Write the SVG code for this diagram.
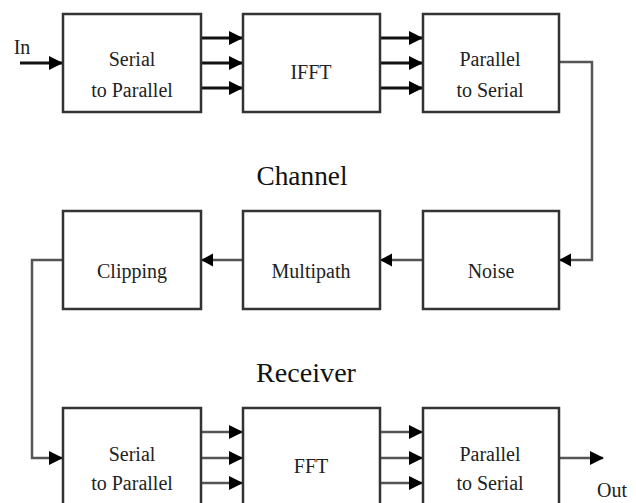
<svg xmlns="http://www.w3.org/2000/svg" width="636" height="503" viewBox="0 0 636 503">
<style>
.box{fill:#fff;stroke:#333;stroke-width:2.5}
.lbl{font-family:"Liberation Serif","Times New Roman",serif;font-size:20px;fill:#222;text-anchor:middle}
.title{font-family:"Liberation Serif","Times New Roman",serif;font-size:28px;fill:#111;text-anchor:middle}
.wire{fill:none;stroke:#111;stroke-width:3}
.wire2{fill:none;stroke:#555;stroke-width:2.5}
</style>
<defs>
<marker id="ah" markerUnits="userSpaceOnUse" markerWidth="14" markerHeight="14" viewBox="0 0 14 14" refX="13" refY="7" orient="auto">
<path d="M0,0 L14,7 L0,14 Z" fill="#000"/>
</marker>
<marker id="ah2" markerUnits="userSpaceOnUse" markerWidth="12" markerHeight="14" viewBox="0 0 12 14" refX="11" refY="7" orient="auto">
<path d="M0,0.5 L12,7 L0,13.5 Z" fill="#000"/>
</marker>
</defs>
<rect width="636" height="503" fill="#fff"/>
<g id="connectors">
<path class="wire" d="M20,63 H62" marker-end="url(#ah)"/>
<path class="wire" d="M201,38 H242" marker-end="url(#ah)"/>
<path class="wire" d="M201,63 H242" marker-end="url(#ah)"/>
<path class="wire" d="M201,88 H242" marker-end="url(#ah)"/>
<path class="wire" d="M380,38 H422" marker-end="url(#ah)"/>
<path class="wire" d="M380,63 H422" marker-end="url(#ah)"/>
<path class="wire" d="M380,88 H422" marker-end="url(#ah)"/>
<path class="wire2" d="M559,62 H592 V260 H560" marker-end="url(#ah2)"/>
<path class="wire2" d="M423,260 H381" marker-end="url(#ah2)"/>
<path class="wire2" d="M243,260 H202" marker-end="url(#ah2)"/>
<path class="wire2" d="M63,260 H32 V458 H62" marker-end="url(#ah)"/>
<path class="wire2" d="M201,432 H242" marker-end="url(#ah)"/>
<path class="wire2" d="M201,458 H242" marker-end="url(#ah)"/>
<path class="wire2" d="M201,483 H242" marker-end="url(#ah)"/>
<path class="wire2" d="M380,432 H422" marker-end="url(#ah)"/>
<path class="wire2" d="M380,458 H422" marker-end="url(#ah)"/>
<path class="wire2" d="M380,483 H422" marker-end="url(#ah)"/>
<path class="wire2" d="M559,458 H603" marker-end="url(#ah)"/>
</g>
<text class="lbl" x="22" y="54" font-size="18">In</text>
<text class="lbl" x="612" y="497">Out</text>
<text class="title" x="302" y="185" textLength="91" lengthAdjust="spacingAndGlyphs">Channel</text>
<text class="title" x="306" y="382" textLength="100" lengthAdjust="spacingAndGlyphs">Receiver</text>
<g id="tx_s2p"><rect class="box" x="63" y="14" width="138" height="98"/><text class="lbl" x="132" y="66">Serial</text><text class="lbl" x="132" y="97">to Parallel</text></g>
<g id="ifft"><rect class="box" x="243" y="14" width="137" height="98"/><text class="lbl" x="311" y="79">IFFT</text></g>
<g id="tx_p2s"><rect class="box" x="423" y="14" width="136" height="98"/><text class="lbl" x="490" y="66">Parallel</text><text class="lbl" x="490" y="97">to Serial</text></g>
<g id="clipping"><rect class="box" x="63" y="211" width="138" height="98"/><text class="lbl" x="132" y="278">Clipping</text></g>
<g id="multipath"><rect class="box" x="243" y="211" width="137" height="98"/><text class="lbl" x="311" y="278">Multipath</text></g>
<g id="noise"><rect class="box" x="423" y="211" width="136" height="98"/><text class="lbl" x="491" y="278">Noise</text></g>
<g id="rx_s2p"><rect class="box" x="63" y="408" width="138" height="100"/><text class="lbl" x="132" y="461">Serial</text><text class="lbl" x="132" y="490">to Parallel</text></g>
<g id="fft"><rect class="box" x="243" y="408" width="137" height="100"/><text class="lbl" x="311" y="473">FFT</text></g>
<g id="rx_p2s"><rect class="box" x="423" y="408" width="136" height="100"/><text class="lbl" x="490" y="461">Parallel</text><text class="lbl" x="490" y="490">to Serial</text></g>
</svg>
